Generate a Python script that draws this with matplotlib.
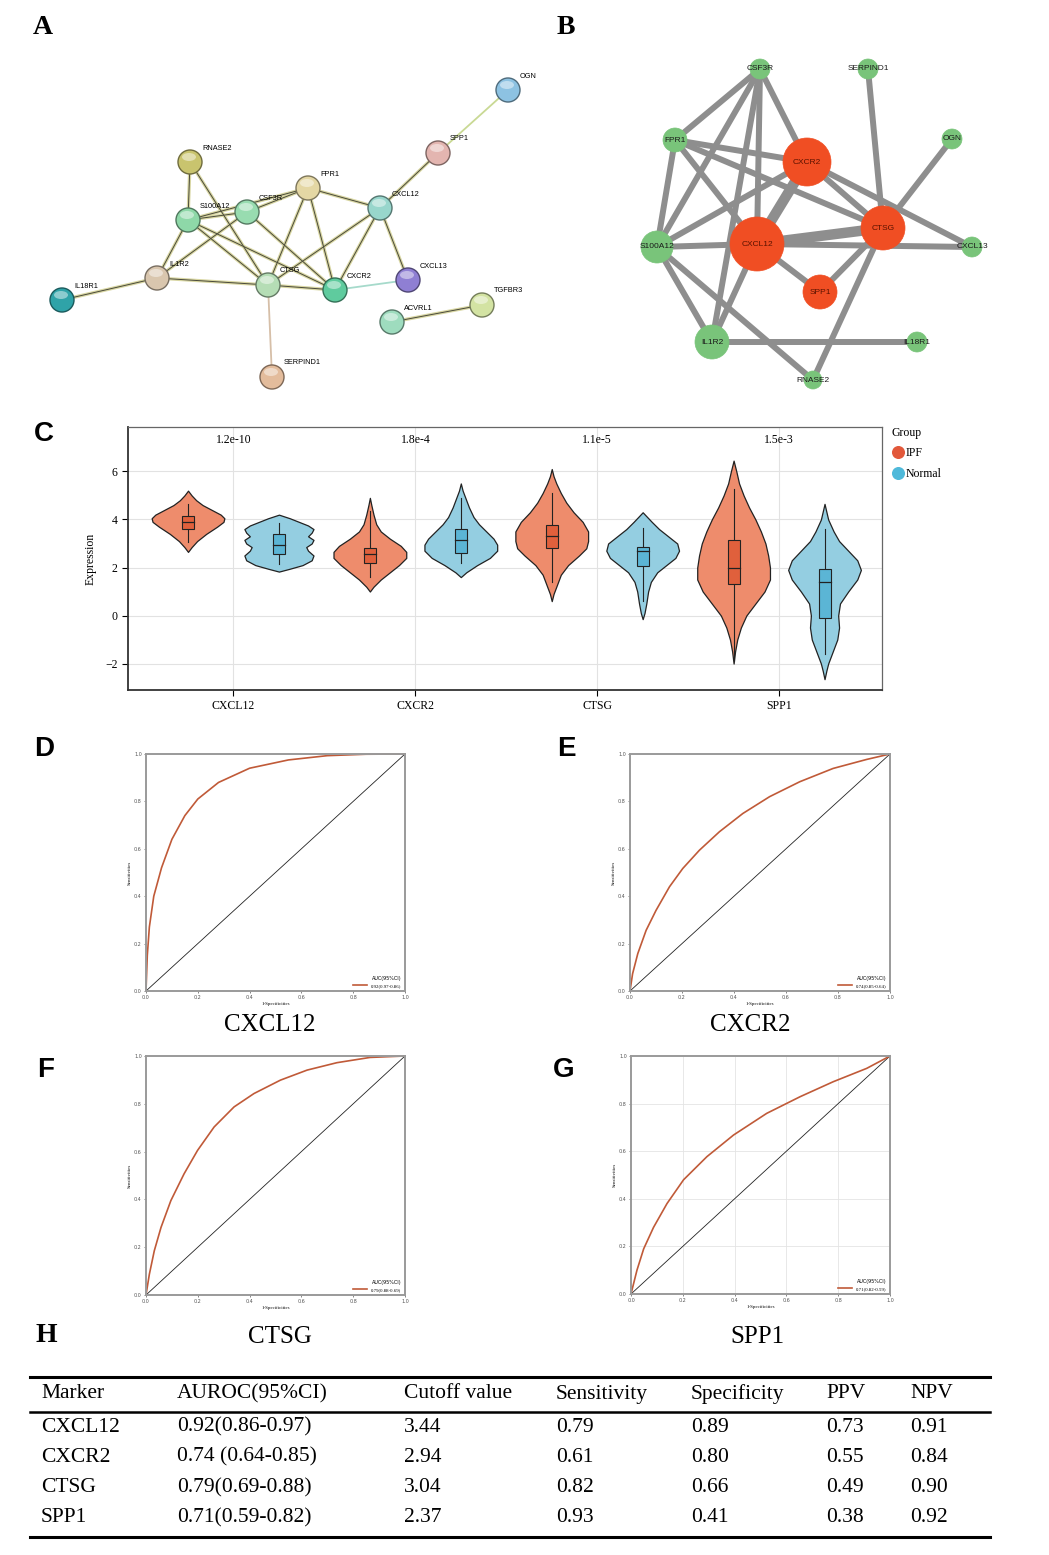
import matplotlib
matplotlib.use('Agg')
import matplotlib.pyplot as plt
from matplotlib.patches import Circle, Ellipse, Rectangle
from matplotlib.colors import to_rgb

W, H = 1049, 1555
SERIF = 'Liberation Serif'
SANS = 'Liberation Sans'

# ---------------- data ----------------
# panel A (STRING network): name -> (x, y, colour) in figure pixels
a_nodes = {
    'OGN': (508, 90, '#8DC2E2'),
    'SPP1': (438, 153, '#E3B5B0'),
    'RNASE2': (190, 162, '#C9C46E'),
    'FPR1': (308, 188, '#E4D7A4'),
    'CXCL12': (380, 208, '#98D6CC'),
    'CSF3R': (247, 212, '#98DCB0'),
    'S100A12': (188, 220, '#8ED8A8'),
    'IL1R2': (157, 278, '#D9C6AE'),
    'CTSG': (268, 285, '#B5DDB5'),
    'CXCR2': (335, 290, '#5FCB9E'),
    'CXCL13': (408, 280, '#8F7FD3'),
    'IL18R1': (62, 300, '#2FA3A8'),
    'ACVRL1': (392, 322, '#9EDCBE'),
    'TGFBR3': (482, 305, '#D3E3A3'),
    'SERPIND1': (272, 377, '#E3BC9C'),
}
a_edges = [('OGN', 'SPP1'), ('SPP1', 'CXCL12'), ('RNASE2', 'S100A12'), ('RNASE2', 'CTSG'),
           ('S100A12', 'CSF3R'), ('S100A12', 'FPR1'), ('CSF3R', 'FPR1'), ('S100A12', 'IL1R2'),
           ('S100A12', 'CTSG'), ('S100A12', 'CXCR2'), ('CSF3R', 'IL1R2'), ('CSF3R', 'CXCR2'),
           ('FPR1', 'CTSG'), ('FPR1', 'CXCR2'), ('FPR1', 'CXCL12'), ('CXCL12', 'CTSG'),
           ('CXCL12', 'CXCR2'), ('CXCL12', 'CXCL13'), ('CXCR2', 'CXCL13'), ('IL1R2', 'CTSG'),
           ('IL1R2', 'IL18R1'), ('CTSG', 'CXCR2'), ('CTSG', 'SERPIND1'), ('ACVRL1', 'TGFBR3')]
a_edge_col = {('OGN', 'SPP1'): '#C9D994', ('CTSG', 'SERPIND1'): '#D6BFA8',
              ('CXCR2', 'CXCL13'): '#A6DACB'}

# panel B (hub network): name -> (x, y, radius, hub?)
b_nodes = {
    'CSF3R': (760, 69, 10, False),
    'SERPIND1': (868, 69, 10, False),
    'FPR1': (675, 140, 12, False),
    'OGN': (952, 139, 10, False),
    'CXCR2': (807, 162, 24, True),
    'CTSG': (883, 228, 22, True),
    'CXCL12': (757, 244, 27, True),
    'S100A12': (657, 247, 16, False),
    'CXCL13': (972, 247, 10, False),
    'SPP1': (820, 292, 17, True),
    'IL1R2': (712, 342, 17, False),
    'IL18R1': (917, 342, 10, False),
    'RNASE2': (813, 380, 9, False),
}
b_edges = [('CSF3R', 'FPR1'), ('CSF3R', 'S100A12'), ('CSF3R', 'IL1R2'), ('CSF3R', 'CXCR2'),
           ('CSF3R', 'CXCL12'), ('FPR1', 'S100A12'), ('FPR1', 'CXCR2'), ('FPR1', 'CTSG'),
           ('FPR1', 'CXCL12'), ('S100A12', 'CXCR2'), ('S100A12', 'CXCL12'), ('S100A12', 'IL1R2'),
           ('S100A12', 'RNASE2'), ('CXCR2', 'CTSG'), ('CXCR2', 'CXCL13'), ('CTSG', 'SPP1'),
           ('CTSG', 'RNASE2'), ('CTSG', 'OGN'), ('CTSG', 'SERPIND1'), ('CXCL12', 'SPP1'),
           ('CXCL12', 'CXCL13'), ('CXCL12', 'IL1R2'), ('IL1R2', 'IL18R1')]
b_thick = [('CXCL12', 'CXCR2'), ('CXCL12', 'CTSG')]

# panel C (violins)
genes = ['CXCL12', 'CXCR2', 'CTSG', 'SPP1']
pvals = ['1.2e-10', '1.8e-4', '1.1e-5', '1.5e-3']
ipf_y = [
    [2.65, 2.85, 3.1, 3.4, 3.7, 3.9, 4.05, 4.2, 4.4, 4.6, 4.8, 5.0, 5.2],
    [1.0, 1.2, 1.5, 1.8, 2.1, 2.4, 2.65, 2.9, 3.2, 3.5, 3.8, 4.2, 4.6, 4.9],
    [0.6, 0.9, 1.3, 1.7, 2.1, 2.5, 2.8, 3.1, 3.5, 3.9, 4.3, 4.7, 5.1, 5.5, 5.8, 6.1],
    [-2.0, -1.5, -1.0, -0.5, 0.0, 0.5, 1.0, 1.5, 2.0, 2.5, 3.0, 3.5, 4.0, 4.5, 5.0, 5.5, 6.0, 6.45],
]
ipf_w = [
    [0, 0.02, 0.05, 0.1, 0.16, 0.195, 0.2, 0.18, 0.13, 0.08, 0.045, 0.02, 0],
    [0, 0.02, 0.06, 0.11, 0.16, 0.2, 0.2, 0.17, 0.11, 0.06, 0.035, 0.02, 0.008, 0],
    [0, 0.01, 0.03, 0.05, 0.09, 0.15, 0.19, 0.2, 0.2, 0.17, 0.12, 0.08, 0.05, 0.025, 0.01, 0],
    [0, 0.008, 0.02, 0.04, 0.07, 0.12, 0.17, 0.2, 0.2, 0.19, 0.175, 0.15, 0.12, 0.085, 0.055, 0.03, 0.015, 0],
]
normal_y = [
    [1.83, 1.95, 2.1, 2.3, 2.5, 2.7, 2.85, 3.0, 3.15, 3.3, 3.45, 3.6, 3.75, 3.9, 4.05, 4.2],
    [1.6, 1.8, 2.1, 2.4, 2.7, 2.95, 3.2, 3.5, 3.8, 4.1, 4.5, 4.9, 5.2, 5.5],
    [-0.15, 0.1, 0.5, 1.0, 1.4, 1.8, 2.1, 2.4, 2.7, 3.0, 3.3, 3.6, 3.9, 4.1, 4.3],
    [-2.65, -2.3, -2.0, -1.5, -1.0, -0.5, 0.0, 0.5, 1.0, 1.5, 1.9, 2.3, 2.7, 3.1, 3.5, 4.0, 4.65],
]
normal_w = [
    [0, 0.06, 0.13, 0.18, 0.19, 0.16, 0.15, 0.18, 0.19, 0.16, 0.18, 0.19, 0.16, 0.11, 0.06, 0],
    [0, 0.03, 0.09, 0.16, 0.2, 0.2, 0.18, 0.14, 0.1, 0.07, 0.045, 0.025, 0.01, 0],
    [0, 0.01, 0.02, 0.03, 0.045, 0.08, 0.13, 0.18, 0.2, 0.19, 0.14, 0.09, 0.05, 0.025, 0],
    [0, 0.01, 0.02, 0.045, 0.07, 0.08, 0.075, 0.085, 0.13, 0.18, 0.2, 0.18, 0.13, 0.08, 0.05, 0.02, 0],
]
# (low whisker, q1, median, q3, high whisker)
ipf_box = [(3.05, 3.6, 3.9, 4.15, 4.65), (1.6, 2.2, 2.55, 2.8, 4.35),
           (1.4, 2.8, 3.3, 3.75, 5.1), (-1.9, 1.3, 2.0, 3.15, 5.25)]
normal_box = [(2.15, 2.55, 2.95, 3.4, 3.85), (2.2, 2.6, 3.15, 3.6, 4.9),
              (0.6, 2.05, 2.7, 2.85, 3.65), (-1.6, -0.1, 1.4, 1.95, 3.6)]

# panels D-G (ROC curves)
roc_fpr = [
    [0, 0.005, 0.013, 0.03, 0.06, 0.1, 0.15, 0.2, 0.28, 0.4, 0.55, 0.7, 0.85, 1.0],
    [0, 0.01, 0.03, 0.062, 0.1, 0.152, 0.203, 0.267, 0.344, 0.434, 0.537, 0.653, 0.781, 0.91, 1.0],
    [0, 0.013, 0.032, 0.058, 0.096, 0.147, 0.199, 0.263, 0.34, 0.417, 0.519, 0.622, 0.737, 0.865, 1.0],
    [0, 0.023, 0.049, 0.087, 0.139, 0.203, 0.293, 0.396, 0.524, 0.653, 0.781, 0.91, 1.0],
]
roc_tpr = [
    [0, 0.15, 0.27, 0.40, 0.52, 0.64, 0.74, 0.81, 0.88, 0.94, 0.975, 0.993, 0.999, 1.0],
    [0, 0.073, 0.158, 0.256, 0.34, 0.44, 0.517, 0.594, 0.672, 0.749, 0.82, 0.883, 0.939, 0.977, 1.0],
    [0, 0.087, 0.185, 0.283, 0.395, 0.507, 0.605, 0.703, 0.787, 0.843, 0.899, 0.941, 0.972, 0.994, 1.0],
    [0, 0.10, 0.19, 0.28, 0.38, 0.48, 0.577, 0.668, 0.759, 0.829, 0.892, 0.948, 1.0],
]
roc_auc = ['0.92(0.97-0.86)', '0.74(0.85-0.64)', '0.79(0.88-0.69)', '0.71(0.82-0.59)']

# panel H table
tab_header = ['Marker', 'AUROC(95%CI)', 'Cutoff value', 'Sensitivity', 'Specificity', 'PPV', 'NPV']
tab_rows = [
    ['CXCL12', '0.92(0.86-0.97)', '3.44', '0.79', '0.89', '0.73', '0.91'],
    ['CXCR2', '0.74 (0.64-0.85)', '2.94', '0.61', '0.80', '0.55', '0.84'],
    ['CTSG', '0.79(0.69-0.88)', '3.04', '0.82', '0.66', '0.49', '0.90'],
    ['SPP1', '0.71(0.59-0.82)', '2.37', '0.93', '0.41', '0.38', '0.92'],
]


def px_rect(l, t, r, b):
    return [l / W, 1 - b / H, (r - l) / W, (b - t) / H]


fig = plt.figure(figsize=(W / 100, H / 100), dpi=100)
fig.patch.set_facecolor('white')

# overlay axes in pixel coordinates (networks, labels, table)
ov = fig.add_axes([0, 0, 1, 1])
ov.set_xlim(0, W)
ov.set_ylim(H, 0)
ov.axis('off')
ov.patch.set_alpha(0)

# ---- panel A ----
for e in a_edges:
    x0, y0, _ = a_nodes[e[0]]
    x1, y1, _ = a_nodes[e[1]]
    col = a_edge_col.get(e)
    if col:
        ov.plot([x0, x1], [y0, y1], color=col, lw=1.3, zorder=2)
    else:
        ov.plot([x0, x1], [y0, y1], color='#D8D6A2', lw=2.4, zorder=2)
        ov.plot([x0, x1], [y0, y1], color='#4A4A3A', lw=0.7, zorder=3)
for name, (x, y, c) in a_nodes.items():
    dark = tuple(v * 0.55 for v in to_rgb(c))
    ov.add_patch(Circle((x, y), 12, fc=c, ec=dark, lw=1.0, zorder=5))
    ov.add_patch(Ellipse((x - 1, y - 5), 14, 8, fc='white', ec='none', alpha=0.45, zorder=6))
    ov.text(x + 12, y - 14, name, fontsize=5.3, family=SANS, ha='left', va='center', zorder=7)

# ---- panel B ----
for e in b_edges:
    x0, y0 = b_nodes[e[0]][:2]
    x1, y1 = b_nodes[e[1]][:2]
    ov.plot([x0, x1], [y0, y1], color='#8E8E8E', lw=4.3, solid_capstyle='butt', zorder=2)
for e in b_thick:
    x0, y0 = b_nodes[e[0]][:2]
    x1, y1 = b_nodes[e[1]][:2]
    ov.plot([x0, x1], [y0, y1], color='#8E8E8E', lw=7.5, solid_capstyle='butt', zorder=2)
for name, (x, y, r, hub) in b_nodes.items():
    c = '#F04E23' if hub else '#79C47A'
    ov.add_patch(Circle((x, y), r, fc=c, ec=c, lw=0.5, zorder=5))
    ov.text(x, y, name, fontsize=6, family=SANS, ha='center', va='center',
            color='#5A1200' if hub else '#1A1A1A', zorder=7)

# ---- panel letters ----
for lab, x, y, fam in [('A', 43, 27, SERIF), ('B', 566, 27, SERIF), ('C', 44, 434, SANS),
                       ('D', 44, 749, SANS), ('E', 566, 749, SANS), ('F', 46, 1070, SANS),
                       ('G', 564, 1070, SANS), ('H', 46, 1335, SERIF)]:
    ov.text(x, y, lab, fontsize=20, fontweight='bold', family=fam, ha='center', va='center')

# ---- panel C ----
axC = fig.add_axes(px_rect(128, 427, 882, 690))
axC.set_xlim(-0.58, 3.566)
axC.set_ylim(-3.1, 7.85)
axC.grid(color='#E2E2E2', lw=0.8)
axC.set_axisbelow(True)
for i in range(len(genes)):
    for off, ys, ws, box, fc, bc in [(-0.25, ipf_y[i], ipf_w[i], ipf_box[i], '#EE8C6C', '#E0603C'),
                                     (0.25, normal_y[i], normal_w[i], normal_box[i], '#94CEE1', '#5BB5D5')]:
        xc = i + off
        axC.fill_betweenx(ys, [xc - w for w in ws], [xc + w for w in ws],
                          facecolor=fc, edgecolor='#222222', lw=0.9, zorder=3)
        lo, q1, med, q3, hi = box
        axC.plot([xc, xc], [lo, hi], color='#222222', lw=0.8, zorder=4)
        axC.add_patch(Rectangle((xc - 0.033, q1), 0.066, q3 - q1, fc=bc, ec='#222222',
                                lw=0.8, zorder=5))
        axC.plot([xc - 0.033, xc + 0.033], [med, med], color='#222222', lw=0.9, zorder=6)
    axC.text(i, 7.3, pvals[i], ha='center', va='center', fontsize=8.5, family=SERIF)
axC.set_xticks(range(len(genes)))
axC.set_xticklabels(genes, family=SERIF, fontsize=8.5)
axC.set_yticks([-2, 0, 2, 4, 6])
axC.set_yticklabels(['\u22122', '0', '2', '4', '6'], family=SERIF, fontsize=8.5)
axC.tick_params(direction='out', length=4, width=0.8)
axC.set_ylabel('Expression', family=SERIF, fontsize=8.5, labelpad=6)
for s in ['left', 'bottom']:
    axC.spines[s].set_color('#333333')
    axC.spines[s].set_linewidth(1.3)
for s in ['top', 'right']:
    axC.spines[s].set_color('#666666')
    axC.spines[s].set_linewidth(0.9)

# legend for C
ov.text(892, 433, 'Group', fontsize=8.5, family=SERIF, va='center')
ov.scatter([898], [452], s=70, color='#E2583A', zorder=5)
ov.text(906, 453, 'IPF', fontsize=8.5, family=SERIF, va='center')
ov.scatter([898], [473], s=70, color='#4FB9DA', zorder=5)
ov.text(906, 474, 'Normal', fontsize=8.5, family=SERIF, va='center')

# ---- panels D-G ----
roc_boxes = [(146, 754, 405, 991), (630, 754, 890, 991), (146, 1056, 405, 1295), (631, 1056, 890, 1294)]
roc_title_pos = [(270, 1025), (750, 1025), (280, 1337), (757, 1337)]
for k in range(4):
    ax = fig.add_axes(px_rect(*roc_boxes[k]))
    ax.set_xlim(0, 1)
    ax.set_ylim(0, 1)
    if k == 3:
        ax.grid(color='#E4E4E4', lw=0.6)
        ax.set_axisbelow(True)
    ax.plot([0, 1], [0, 1], color='#222222', lw=0.6)
    ln, = ax.plot(roc_fpr[k], roc_tpr[k], color='#C05A38', lw=1.2, clip_on=False)
    ticks = [0, 0.2, 0.4, 0.6, 0.8, 1.0]
    ax.set_xticks(ticks)
    ax.set_yticks(ticks)
    ax.set_xticklabels(['%.1f' % t for t in ticks])
    ax.set_yticklabels(['%.1f' % t for t in ticks])
    ax.tick_params(labelsize=3.5, length=1.5, width=0.5, colors='#555555', pad=1.5)
    ax.set_xlabel('1-Specificities', fontsize=3.5, family=SERIF, labelpad=1.5)
    ax.set_ylabel('Sensitivities', fontsize=3.5, family=SERIF, labelpad=2)
    for s in ax.spines.values():
        s.set_color('#9A9A9A')
        s.set_linewidth(1.4)
    leg = ax.legend([ln], [roc_auc[k]], title='AUC(95%CI)', loc='lower right', frameon=False,
                    fontsize=3.5, title_fontsize=3.5, handlelength=3, borderaxespad=0.3,
                    prop={'family': SERIF, 'size': 3.5})
    leg._legend_box.align = 'right'
    tx, ty = roc_title_pos[k]
    ov.text(tx, ty, genes[k], fontsize=18, family=SERIF, ha='center', va='center')

# ---- panel H table ----
col_x = [41, 177, 404, 556, 691, 826, 910]
ov.plot([30, 990], [1377, 1377], color='black', lw=2.2)
ov.plot([30, 990], [1412, 1412], color='black', lw=1.8)
ov.plot([30, 990], [1537, 1537], color='black', lw=2.2)
for j, h in enumerate(tab_header):
    ov.text(col_x[j], 1394, h, fontsize=15.5, family=SERIF, va='center', ha='left')
row_y = [1427, 1457, 1488, 1518]
for i, row in enumerate(tab_rows):
    for j, v in enumerate(row):
        ov.text(col_x[j], row_y[i], v, fontsize=15.5, family=SERIF, va='center', ha='left')

fig.savefig('out.png', dpi=100, facecolor='white')
